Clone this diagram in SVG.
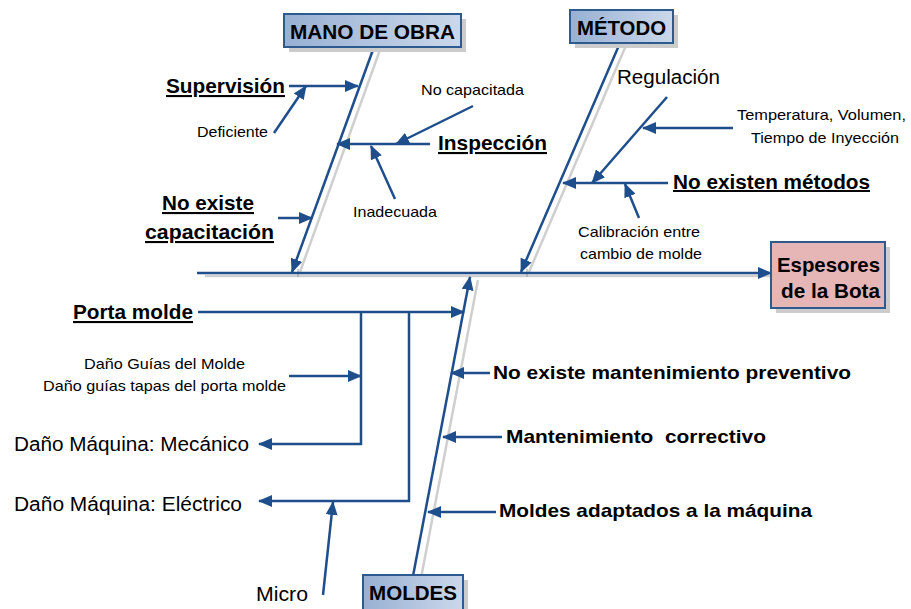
<svg xmlns="http://www.w3.org/2000/svg" width="911" height="609" viewBox="0 0 911 609">
<defs>
<linearGradient id="bg" x1="0" y1="0" x2="1" y2="0">
<stop offset="0" stop-color="#98b0d3"/><stop offset="1" stop-color="#cbd8ea"/>
</linearGradient>
<marker id="ah" markerUnits="userSpaceOnUse" markerWidth="14" markerHeight="12" refX="13" refY="6" orient="auto">
<path d="M0,0 L14,6 L0,12 z" fill="#1f4e8c"/>
</marker>
<style>
.a{stroke:#1f4e8c;stroke-width:2.5;fill:none;marker-end:url(#ah)}
.g{stroke:#cfcfcf;stroke-width:2.5;fill:none}
.box{fill:url(#bg);stroke:#2d5b8f;stroke-width:2}
.sh{fill:#cccccc}
text{font-family:"Liberation Sans",Arial,sans-serif;fill:#000}
.b{font-weight:bold}
.u{text-decoration:underline}
.pre{white-space:pre}
</style>
</defs>
<g id="connectors">
<line class="g" x1="205" y1="276" x2="770" y2="276"/>
<line class="g" x1="381" y1="47" x2="300" y2="272"/>
<line class="g" x1="627" y1="43" x2="529" y2="272"/>
<line class="g" x1="421" y1="578" x2="478" y2="280"/>
<path d="M294,273h8M298,269v8M523,273h8M527,269v8" stroke="#999" stroke-width="1"/>
<line class="a" x1="197" y1="273" x2="771" y2="273"/>
<line class="a" x1="374" y1="47" x2="292" y2="272"/>
<line class="a" x1="620" y1="43" x2="521" y2="272"/>
<line class="a" x1="413" y1="576" x2="470" y2="277"/>
<line class="a" x1="289" y1="86" x2="358" y2="86"/>
<line class="a" x1="274" y1="133" x2="306" y2="86"/>
<line class="a" x1="430" y1="144" x2="337" y2="144"/>
<line class="a" x1="473" y1="106" x2="396" y2="144"/>
<line class="a" x1="395" y1="199" x2="371" y2="146"/>
<line class="a" x1="278" y1="218" x2="312" y2="218"/>
<line class="a" x1="667" y1="97" x2="592" y2="183"/>
<line class="a" x1="733" y1="128" x2="643" y2="128"/>
<line class="a" x1="668" y1="183" x2="563" y2="183"/>
<line class="a" x1="639" y1="218" x2="625" y2="184"/>
<line class="a" x1="198" y1="312" x2="464" y2="312"/>
<polyline class="a" points="361,312 361,444 259,444"/>
<polyline class="a" points="409,312 409,501 259,501"/>
<line class="a" x1="289" y1="376" x2="361" y2="376"/>
<line class="a" x1="323" y1="595" x2="333" y2="502"/>
<line class="a" x1="490" y1="373" x2="451" y2="373"/>
<line class="a" x1="502" y1="437" x2="443" y2="437"/>
<line class="a" x1="496" y1="512" x2="428" y2="512"/>
</g>
<g id="mano-de-obra">
<rect class="sh" x="289" y="19" width="177" height="33"/>
<rect class="box" x="284" y="14" width="177" height="33"/>
<text class="b" x="372.5" y="38.5" font-size="21" text-anchor="middle" textLength="165" lengthAdjust="spacingAndGlyphs">MANO DE OBRA</text>
</g>
<g id="metodo">
<rect class="sh" x="575" y="15" width="103" height="33"/>
<rect class="box" x="570" y="10" width="103" height="33"/>
<text class="b" x="621.5" y="34.5" font-size="21" text-anchor="middle" textLength="89" lengthAdjust="spacingAndGlyphs">MÉTODO</text>
</g>
<g id="moldes">
<rect class="sh" x="368" y="580" width="100" height="40"/>
<rect class="box" x="363" y="575" width="100" height="40"/>
<text class="b" x="413" y="600" font-size="21" text-anchor="middle" textLength="88" lengthAdjust="spacingAndGlyphs">MOLDES</text>
</g>
<g id="espesores">
<rect class="sh" x="776" y="247" width="114" height="66"/>
<rect x="771" y="242" width="114" height="66" fill="#e6b5b5" stroke="#2d5b8f" stroke-width="2"/>
<text class="b" x="828.5" y="272" font-size="21" text-anchor="middle" textLength="103" lengthAdjust="spacingAndGlyphs">Espesores</text>
<text class="b" x="830.5" y="298" font-size="21" text-anchor="middle" textLength="99" lengthAdjust="spacingAndGlyphs">de la Bota</text>
</g>
<g id="supervision"><text class="b u" x="166" y="93" font-size="21" textLength="119" lengthAdjust="spacingAndGlyphs">Supervisión</text></g>
<g id="deficiente"><text x="197" y="137" font-size="15" textLength="71" lengthAdjust="spacingAndGlyphs">Deficiente</text></g>
<g id="no-capacitada"><text x="421" y="95" font-size="15" textLength="103" lengthAdjust="spacingAndGlyphs">No capacitada</text></g>
<g id="inspeccion"><text class="b u" x="438" y="150" font-size="21" textLength="109" lengthAdjust="spacingAndGlyphs">Inspección</text></g>
<g id="inadecuada"><text x="353" y="217" font-size="15" textLength="84" lengthAdjust="spacingAndGlyphs">Inadecuada</text></g>
<g id="no-existe-capacitacion">
<text class="b u" x="208" y="210" font-size="21" text-anchor="middle" textLength="92" lengthAdjust="spacingAndGlyphs">No existe</text>
<text class="b u" x="209.5" y="239" font-size="21" text-anchor="middle" textLength="129" lengthAdjust="spacingAndGlyphs">capacitación</text>
</g>
<g id="regulacion"><text x="617" y="84" font-size="20" textLength="103" lengthAdjust="spacingAndGlyphs">Regulación</text></g>
<g id="temperatura">
<text x="737" y="120" font-size="15" textLength="169" lengthAdjust="spacingAndGlyphs">Temperatura, Volumen,</text>
<text x="751" y="143" font-size="15" textLength="148" lengthAdjust="spacingAndGlyphs">Tiempo de Inyección</text>
</g>
<g id="no-existen-metodos"><text class="b u" x="673" y="189" font-size="20" textLength="197" lengthAdjust="spacingAndGlyphs">No existen métodos</text></g>
<g id="calibracion">
<text x="578" y="237" font-size="15" textLength="122" lengthAdjust="spacingAndGlyphs">Calibración entre</text>
<text x="580" y="259" font-size="15" textLength="122" lengthAdjust="spacingAndGlyphs">cambio de molde</text>
</g>
<g id="porta-molde"><text class="b u" x="73" y="319" font-size="21" textLength="120" lengthAdjust="spacingAndGlyphs">Porta molde</text></g>
<g id="dano-guias">
<text x="84" y="369" font-size="15" textLength="161" lengthAdjust="spacingAndGlyphs">Daño Guías del Molde</text>
<text x="43" y="391" font-size="15" textLength="243" lengthAdjust="spacingAndGlyphs">Daño guías tapas del porta molde</text>
</g>
<g id="dano-mecanico"><text x="14" y="451" font-size="20" textLength="235" lengthAdjust="spacingAndGlyphs">Daño Máquina: Mecánico</text></g>
<g id="dano-electrico"><text x="14" y="511" font-size="20" textLength="228" lengthAdjust="spacingAndGlyphs">Daño Máquina: Eléctrico</text></g>
<g id="micro"><text x="256" y="601" font-size="20" textLength="52" lengthAdjust="spacingAndGlyphs">Micro</text></g>
<g id="mant-preventivo"><text class="b" x="493" y="379" font-size="19" textLength="358" lengthAdjust="spacingAndGlyphs">No existe mantenimiento preventivo</text></g>
<g id="mant-correctivo"><text class="b pre" x="506" y="443" font-size="19" textLength="260" lengthAdjust="spacingAndGlyphs">Mantenimiento  correctivo</text></g>
<g id="moldes-adaptados"><text class="b" x="499" y="517" font-size="19" textLength="313" lengthAdjust="spacingAndGlyphs">Moldes adaptados a la máquina</text></g>
</svg>
